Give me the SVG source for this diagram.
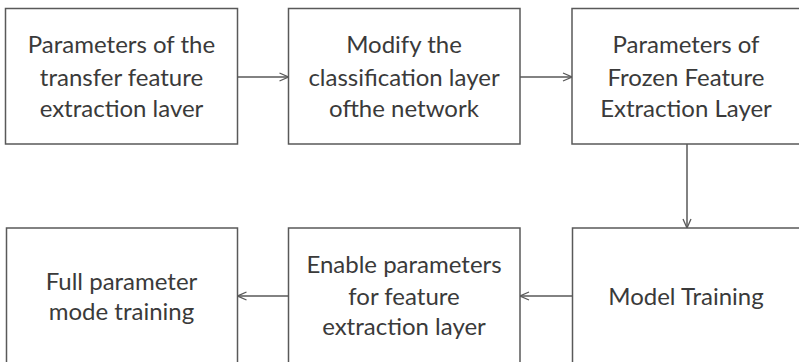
<svg xmlns="http://www.w3.org/2000/svg" width="799" height="362" viewBox="0 0 799 362">
<defs>
<marker id="arr" viewBox="0 0 10 10" refX="10" refY="5" markerWidth="10" markerHeight="10" markerUnits="userSpaceOnUse" orient="auto">
<path d="M1,1 L10,5 L1,9" fill="none" stroke="#595959" stroke-width="1.3"/>
</marker>
<style>
.box{fill:#fff;stroke:#595959;stroke-width:1.5}
.t{font-family:Lato,"Liberation Sans",sans-serif;font-size:24px;fill:#3a3a3a;text-anchor:middle}
.c{stroke:#595959;stroke-width:1.5;fill:none;marker-end:url(#arr)}
</style>
</defs>
<rect width="799" height="362" fill="#fff"/>
<g id="n1"><rect class="box" x="5.5" y="8.5" width="232" height="135.5"/>
<text class="t" x="121.5" y="53">Parameters of the</text>
<text class="t" x="121.5" y="86">transfer feature</text>
<text class="t" x="121.5" y="117">extraction laver</text></g>
<g id="n2"><rect class="box" x="288.5" y="8.5" width="231.5" height="135.5"/>
<text class="t" x="404" y="53">Modify the</text>
<text class="t" x="404" y="86">classification layer</text>
<text class="t" x="404" y="117">ofthe network</text></g>
<g id="n3"><rect class="box" x="572" y="8.5" width="235" height="135.5"/>
<text class="t" x="686" y="53">Parameters of</text>
<text class="t" x="686" y="86">Frozen Feature</text>
<text class="t" x="686" y="117">Extraction Layer</text></g>
<g id="n4"><rect class="box" x="6.5" y="228" width="231" height="145"/>
<text class="t" x="121.5" y="290">Full parameter</text>
<text class="t" x="121.5" y="320">mode training</text></g>
<g id="n5"><rect class="box" x="288.5" y="228" width="231.5" height="145"/>
<text class="t" x="404" y="273">Enable parameters</text>
<text class="t" x="404" y="305">for feature</text>
<text class="t" x="404" y="335">extraction layer</text></g>
<g id="n6"><rect class="box" x="572.5" y="228" width="235" height="145"/>
<text class="t" x="686" y="305">Model Training</text></g>
<g id="connectors">
<line class="c" x1="237.5" y1="77" x2="288.5" y2="77"/>
<line class="c" x1="520" y1="77" x2="572" y2="77"/>
<line class="c" x1="687" y1="144" x2="687" y2="228"/>
<line class="c" x1="572.5" y1="296" x2="520" y2="296"/>
<line class="c" x1="288.5" y1="296" x2="237.5" y2="296"/>
</g>
</svg>
